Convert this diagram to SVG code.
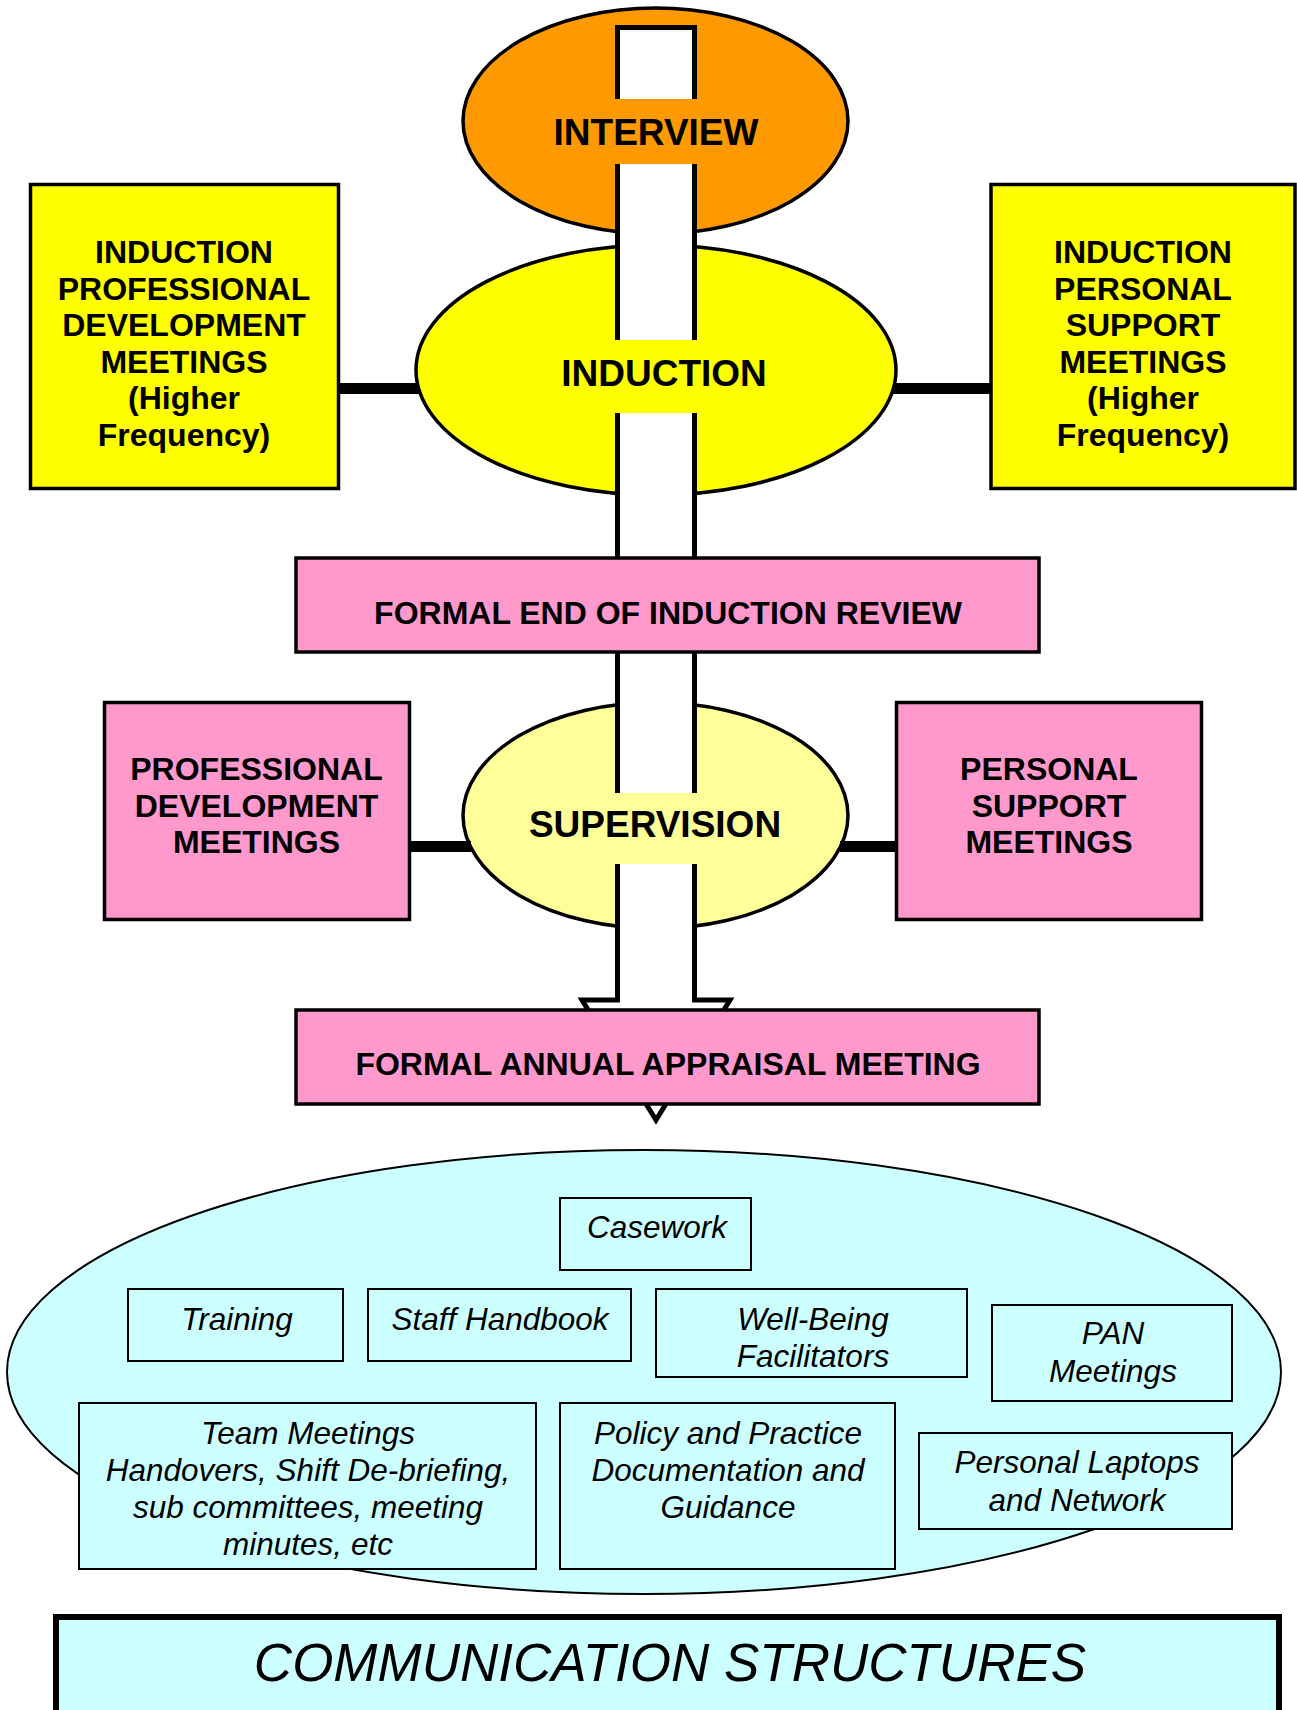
<svg xmlns="http://www.w3.org/2000/svg" width="1297" height="1710" viewBox="0 0 1297 1710">
<style>
  text { font-family: "Liberation Sans", Arial, sans-serif; fill: #000; text-anchor: middle; }
  .b37 { font-size: 37px; font-weight: bold; }
  .b32 { font-size: 32px; font-weight: bold; }
  .i32 { font-size: 31.5px; font-style: italic; }
  .title { font-size: 53px; font-style: italic; }
  .heavy { stroke: #000; stroke-width: 3.5; }
  .thin { stroke: #000; stroke-width: 2; }
  .yellowbox { fill: #FFFF00; }
  .pinkbox { fill: #FF99CC; }
  .cyanbox { fill: #CCFFFF; }
  .link { stroke: #000; stroke-width: 11; fill: none; }
</style>

<rect x="0" y="0" width="1297" height="1710" fill="#FFFFFF"/>

<!-- bottom container ellipse -->
<g id="communication-area">
  <ellipse cx="644" cy="1372" rx="637" ry="222" class="cyanbox thin"/>
</g>

<!-- ellipse node shapes -->
<g id="interview">
  <ellipse cx="655.5" cy="121" rx="192.5" ry="113" fill="#FF9900" class="heavy"/>
</g>
<g id="induction">
  <ellipse cx="656" cy="370" rx="240" ry="125" fill="#FFFF00" class="heavy"/>
</g>
<g id="supervision">
  <ellipse cx="655.5" cy="815.5" rx="192.5" ry="113" fill="#FFFF99" class="heavy"/>
</g>

<!-- connectors -->
<g id="connectors">
  <line x1="338" y1="388.5" x2="419" y2="388.5" class="link"/>
  <line x1="893" y1="388.5" x2="991" y2="388.5" class="link"/>
  <line x1="409" y1="846.5" x2="471" y2="846.5" class="link"/>
  <line x1="840" y1="846.5" x2="897" y2="846.5" class="link"/>
  <polygon points="617.5,27.5 694.5,27.5 694.5,1000 730,1000 656,1120 582,1000 617.5,1000" fill="#FFFFFF" stroke="#000" stroke-width="5" stroke-linejoin="miter"/>
</g>

<!-- ellipse labels (drawn over the arrow) -->
<g id="interview-label">
  <rect x="611" y="99" width="90" height="65" fill="#FF9900"/>
  <text x="656" y="145" class="b37">INTERVIEW</text>
</g>
<g id="induction-label">
  <rect x="611" y="340" width="90" height="73" fill="#FFFF00"/>
  <text x="664" y="386" class="b37">INDUCTION</text>
</g>
<g id="supervision-label">
  <rect x="611" y="793" width="90" height="71" fill="#FFFF99"/>
  <text x="655" y="837" class="b37">SUPERVISION</text>
</g>

<!-- side boxes -->
<g id="induction-professional">
  <rect x="30.5" y="184.5" width="308" height="304" class="yellowbox heavy"/>
  <text x="184" y="263" class="b32">INDUCTION</text>
  <text x="184" y="299.5" class="b32">PROFESSIONAL</text>
  <text x="184" y="336" class="b32">DEVELOPMENT</text>
  <text x="184" y="372.5" class="b32">MEETINGS</text>
  <text x="184" y="409" class="b32">(Higher</text>
  <text x="184" y="445.5" class="b32">Frequency)</text>
</g>
<g id="induction-personal">
  <rect x="991" y="184.5" width="304" height="304" class="yellowbox heavy"/>
  <text x="1143" y="263" class="b32">INDUCTION</text>
  <text x="1143" y="299.5" class="b32">PERSONAL</text>
  <text x="1143" y="336" class="b32">SUPPORT</text>
  <text x="1143" y="372.5" class="b32">MEETINGS</text>
  <text x="1143" y="409" class="b32">(Higher</text>
  <text x="1143" y="445.5" class="b32">Frequency)</text>
</g>
<g id="formal-end-review">
  <rect x="296" y="558" width="743" height="94" class="pinkbox heavy"/>
  <text x="668" y="623.5" class="b32">FORMAL END OF INDUCTION REVIEW</text>
</g>
<g id="professional-development">
  <rect x="104.5" y="702.5" width="305" height="217" class="pinkbox heavy"/>
  <text x="256.5" y="780" class="b32">PROFESSIONAL</text>
  <text x="256.5" y="817" class="b32">DEVELOPMENT</text>
  <text x="256.5" y="853" class="b32">MEETINGS</text>
</g>
<g id="personal-support">
  <rect x="896.5" y="702.5" width="305" height="217" class="pinkbox heavy"/>
  <text x="1049" y="780" class="b32">PERSONAL</text>
  <text x="1049" y="817" class="b32">SUPPORT</text>
  <text x="1049" y="853" class="b32">MEETINGS</text>
</g>
<g id="formal-annual-appraisal">
  <rect x="296" y="1010" width="743" height="94" class="pinkbox heavy"/>
  <text x="668" y="1074.5" class="b32">FORMAL ANNUAL APPRAISAL MEETING</text>
</g>

<!-- communication items -->
<g id="casework">
  <rect x="560" y="1198" width="191" height="72" class="cyanbox thin"/>
  <text x="657" y="1238" class="i32">Casework</text>
</g>
<g id="training">
  <rect x="128" y="1289" width="215" height="72" class="cyanbox thin"/>
  <text x="237" y="1330" class="i32">Training</text>
</g>
<g id="staff-handbook">
  <rect x="368" y="1289" width="263" height="72" class="cyanbox thin"/>
  <text x="500" y="1330" class="i32">Staff Handbook</text>
</g>
<g id="well-being">
  <rect x="656" y="1289" width="311" height="88" class="cyanbox thin"/>
  <text x="813" y="1330" class="i32">Well-Being</text>
  <text x="813" y="1367" class="i32">Facilitators</text>
</g>
<g id="pan-meetings">
  <rect x="992" y="1305" width="240" height="96" class="cyanbox thin"/>
  <text x="1113" y="1344" class="i32">PAN</text>
  <text x="1113" y="1382" class="i32">Meetings</text>
</g>
<g id="team-meetings">
  <rect x="79" y="1403" width="457" height="166" class="cyanbox thin"/>
  <text x="308" y="1444" class="i32">Team Meetings</text>
  <text x="308" y="1481" class="i32">Handovers, Shift De-briefing,</text>
  <text x="308" y="1518" class="i32">sub committees, meeting</text>
  <text x="308" y="1555" class="i32">minutes, etc</text>
</g>
<g id="policy-practice">
  <rect x="560" y="1403" width="335" height="166" class="cyanbox thin"/>
  <text x="728" y="1444" class="i32">Policy and Practice</text>
  <text x="728" y="1481" class="i32">Documentation and</text>
  <text x="728" y="1518" class="i32">Guidance</text>
</g>
<g id="laptops-network">
  <rect x="919" y="1433" width="313" height="96" class="cyanbox thin"/>
  <text x="1077" y="1473" class="i32">Personal Laptops</text>
  <text x="1077" y="1511" class="i32">and Network</text>
</g>

<!-- title -->
<g id="title">
  <rect x="56" y="1617" width="1223" height="110" class="cyanbox" stroke="#000" stroke-width="6"/>
  <text x="670" y="1681" class="title">COMMUNICATION STRUCTURES</text>
</g>
</svg>
